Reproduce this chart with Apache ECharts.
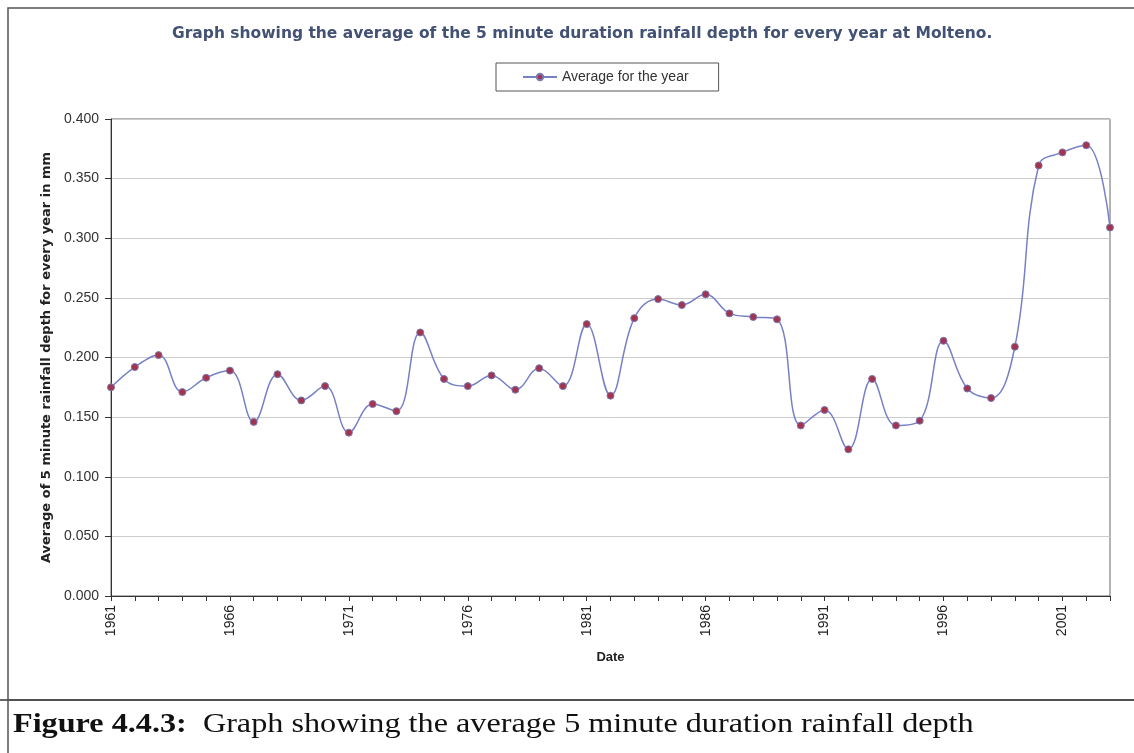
<!DOCTYPE html>
<html>
<head>
<meta charset="utf-8">
<script src="https://cdn.jsdelivr.net/npm/echarts@6/dist/echarts.min.js"></script>
<style>
html,body{margin:0;padding:0;background:#fff;}
#chart{width:1134px;height:753px;}
</style>
</head>
<body>
<div id="chart"></div>
<script>
const years = ["1961","1962","1963","1964","1965","1966","1967","1968","1969","1970",
  "1971","1972","1973","1974","1975","1976","1977","1978","1979","1980",
  "1981","1982","1983","1984","1985","1986","1987","1988","1989","1990",
  "1991","1992","1993","1994","1995","1996","1997","1998","1999","2000",
  "2001","2002","2003"];
const averageForYear = [0.175,0.192,0.202,0.171,0.183,0.189,0.146,0.186,0.164,0.176,
  0.137,0.161,0.155,0.221,0.182,0.176,0.185,0.173,0.191,0.176,
  0.228,0.168,0.233,0.249,0.244,0.253,0.237,0.234,0.232,0.143,
  0.156,0.123,0.182,0.143,0.147,0.214,0.174,0.166,0.209,0.361,
  0.372,0.378,0.309];
const seriesName = "Average for the year";
const chartTitle = "Graph showing the average of the 5 minute duration rainfall depth for every year at Molteno.";
const yAxisName = "Average of 5 minute rainfall depth for every year in mm";
const xAxisName = "Date";
const captionBold = "Figure 4.4.3:";
const captionText = "Graph showing the average 5 minute duration rainfall depth";

const chart = echarts.init(document.getElementById('chart'), null, {renderer:'canvas'});
chart.setOption({
  backgroundColor:'#fff',
  animation:false,
  title:{
    text:chartTitle,
    left:167, top:21,
    textStyle:{fontFamily:'DejaVu Sans', fontSize:15.5, fontWeight:'bold', color:'#435274'}
  },
  legend:{
    data:[seriesName],
    top:63, left:496,
    itemWidth:34, itemHeight:8, itemGap:5,
    padding:[7,30,7,26],
    borderColor:'#555', borderWidth:1, borderRadius:0,
    textStyle:{fontFamily:'Liberation Sans', fontSize:14, color:'#333'}
  },
  graphic:[
    {type:'rect', shape:{x:8,y:8,width:1134,height:692}, style:{fill:'none', stroke:'#555', lineWidth:1.5}, silent:true},
    {type:'line', shape:{x1:0,y1:700,x2:1134,y2:700}, style:{stroke:'#333', lineWidth:1.5}, silent:true},
    {type:'rect', shape:{x:8,y:700,width:1134,height:60}, style:{fill:'none', stroke:'#555', lineWidth:1.5}, silent:true},
    {type:'text', x:13, y:711, scaleX:1.15, style:{
      text:'{b|' + captionBold + '}  ' + captionText,
      fontFamily:'Liberation Serif', fontSize:28, fontWeight:'normal', fill:'#111',
      rich:{b:{fontFamily:'Liberation Serif', fontSize:28, fontWeight:'bold', fill:'#111'}}
    }}
  ],
  grid:{left:111, right:24, top:119, bottom:157, show:true, borderColor:'#666', borderWidth:1, backgroundColor:'#fff'},
  xAxis:{
    type:'category', data:years, boundaryGap:false,
    name:xAxisName, nameLocation:'middle', nameGap:55,
    nameTextStyle:{fontFamily:'Liberation Sans', fontSize:13, fontWeight:'bold', color:'#222'},
    axisLine:{lineStyle:{color:'#333', width:1}},
    axisTick:{show:true, interval:0, length:5, inside:false, lineStyle:{color:'#333'}},
    axisLabel:{interval:4, rotate:90, fontFamily:'Liberation Sans', fontSize:14, color:'#222', margin:9},
    splitLine:{show:false}
  },
  yAxis:{
    type:'value', min:0, max:0.4, interval:0.05,
    name:yAxisName, nameLocation:'middle', nameGap:57, nameRotate:90,
    nameTextStyle:{fontFamily:'DejaVu Sans', fontSize:13, fontWeight:'bold', color:'#222'},
    axisLine:{show:true, lineStyle:{color:'#333', width:1}},
    axisTick:{show:true, length:6, lineStyle:{color:'#333'}},
    axisLabel:{formatter:function(v){return v.toFixed(3);}, fontFamily:'Liberation Sans', fontSize:14, color:'#333', margin:12},
    splitLine:{show:true, lineStyle:{color:'#cccccc', width:1}}
  },
  series:[{
    name:seriesName, type:'line', data:averageForYear, smooth:0.4,
    symbol:'circle', symbolSize:7, showSymbol:true,
    lineStyle:{color:'#7680c4', width:1.5},
    itemStyle:{color:'#a3344e', borderColor:'#7a78b0', borderWidth:1}
  }]
});
</script>
</body>
</html>
